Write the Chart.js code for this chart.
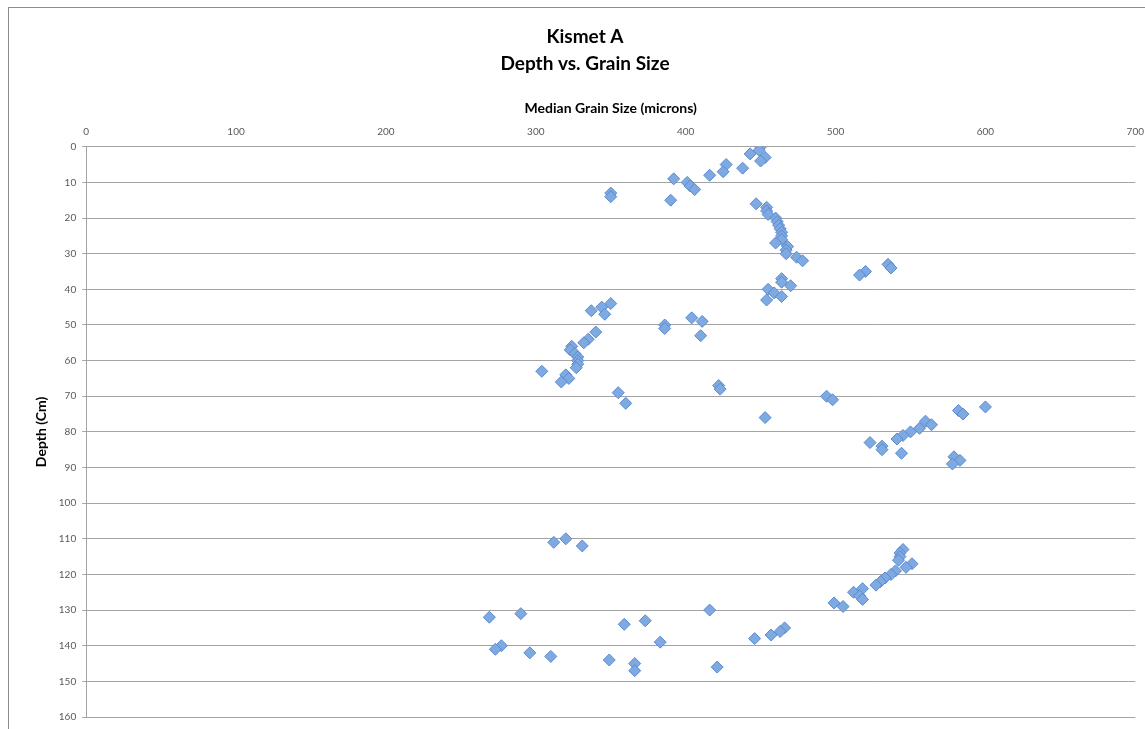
<!DOCTYPE html>
<html>
<head>
<meta charset="utf-8">
<script src="https://cdn.jsdelivr.net/npm/chart.js@4.4.1/dist/chart.umd.min.js"></script>
<style>
  body { margin: 0; background: #fff; }
  #wrap { position: relative; width: 1145px; height: 729px; overflow: hidden; }
  #frame { position: absolute; left: 8px; top: 7px; width: 1140px; height: 740px; border: 1px solid #8c8c8c; box-sizing: border-box; }
  #grafico { position: absolute; left: 0; top: 0; }
</style>
</head>
<body>
<div id="wrap">
  <div id="frame"></div>
  <canvas id="grafico" width="1145" height="729"></canvas>
</div>
<script>
// profundidade (cm) e tamanho mediano do grão (microns)
const depth = [
    0, 1, 2, 3, 4, 5, 6, 7, 8, 9,
    10, 11, 12, 13, 14, 15, 16, 17, 18, 19,
    20, 21, 22, 23, 24, 25, 26, 27, 28, 29,
    30, 31, 32, 33, 34, 35, 36, 37, 38, 39,
    40, 41, 42, 43, 44, 45, 46, 47, 48, 49,
    50, 51, 52, 53, 54, 55, 56, 57, 58, 59,
    60, 61, 62, 63, 64, 65, 66, 67, 68, 69,
    70, 71, 72, 73, 74, 75, 76, 77, 78, 79,
    80, 81, 82, 83, 84, 85, 86, 87, 88, 89,
    110, 111, 112, 113, 114, 115, 116, 117, 118, 119,
    120, 121, 122, 123, 124, 125, 126, 127, 128, 129,
    130, 131, 132, 133, 134, 135, 136, 137, 138, 139,
    140, 141, 142, 143, 144, 145, 146, 147
];
const grainSize = [
    450, 449, 443, 453, 450, 427, 438, 425, 416, 392,
    401, 403, 406, 350, 350, 390, 447, 454, 454, 455,
    460, 461, 462, 463, 464, 464, 464, 460, 468, 467,
    467, 474, 478, 535, 537, 520, 516, 464, 464, 470,
    455, 459, 464, 454, 350, 344, 337, 346, 404, 411,
    386, 386, 340, 410, 335, 332, 324, 323, 326, 328,
    328, 328, 327, 304, 320, 322, 317, 422, 423, 355,
    494, 498, 360, 600, 582, 585, 453, 560, 564, 556,
    550, 545, 541, 523, 531, 531, 544, 579, 583, 578,
    320, 312, 331, 545, 543, 543, 542, 551, 547, 540,
    537, 533, 530, 527, 518, 512, 516, 518, 499, 505,
    416, 290, 269, 373, 359, 466, 463, 457, 446, 383,
    277, 273, 296, 310, 349, 366, 421, 366
];

const titulo = ["Kismet A", "Depth vs. Grain Size"];
const tituloX = "Median Grain Size (microns)";
const tituloY = "Depth (Cm)";

const pontos = depth.map((d, i) => ({ x: grainSize[i], y: d }));

new Chart(document.getElementById("grafico"), {
    type: "scatter",
    data: {
        datasets: [{
            label: "Kismet A",
            data: pontos,
            pointStyle: "rectRot",
            pointRadius: 6,
            pointHoverRadius: 6,
            backgroundColor: "#7ea9e1",
            borderColor: "#5a8ad0",
            borderWidth: 1
        }]
    },
    options: {
        responsive: false,
        animation: false,
        layout: { padding: { left: 33, right: 8, top: 0, bottom: 9 } },
        plugins: {
            legend: { display: false },
            tooltip: { enabled: false },
            title: {
                display: true,
                text: titulo,
                color: "#000",
                font: { family: "Lato", size: 19, weight: "bold", lineHeight: 1.42 },
                padding: { top: 23, bottom: 23 }
            }
        },
        scales: {
            x: {
                type: "linear",
                position: "top",
                min: 0,
                max: 700,
                ticks: {
                    stepSize: 100,
                    color: "#595959",
                    font: { family: "Lato", size: 10 },
                    padding: 1,
                    maxRotation: 0
                },
                grid: { display: false },
                border: { display: false },
                title: {
                    display: true,
                    text: tituloX,
                    color: "#000",
                    font: { family: "Lato", size: 14, weight: "bold" },
                    padding: { top: 0, bottom: 8 }
                }
            },
            y: {
                reverse: true,
                min: 0,
                max: 160,
                ticks: {
                    stepSize: 10,
                    color: "#595959",
                    font: { family: "Lato", size: 10 },
                    padding: 6
                },
                grid: { color: "#a3a3a3", tickLength: 4, lineWidth: 1 },
                border: { display: true, color: "#a3a3a3" },
                title: {
                    display: true,
                    text: tituloY,
                    color: "#000",
                    font: { family: "Lato", size: 14, weight: "bold" },
                    padding: { top: 0, bottom: 3 }
                }
            }
        }
    }
});
</script>
</body>
</html>
